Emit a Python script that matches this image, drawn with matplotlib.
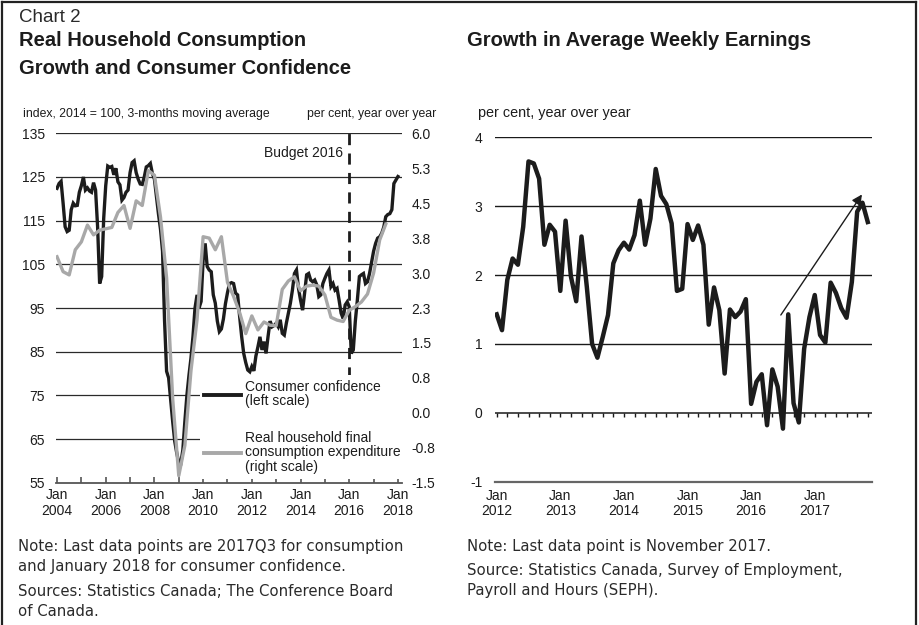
import matplotlib
matplotlib.use("Agg")
import matplotlib.pyplot as plt
import numpy as np
from matplotlib.lines import Line2D

# ---------------- data ----------------
# Consumer confidence index (2014=100, 3-month m.a.), monthly Jan 2004 .. Jan 2018
cc_2004 = [122.4, 123.5, 124.0, 119.0, 113.6, 112.5, 112.8, 117.5, 119.0, 118.4, 118.5, 121.5]
cc_2005 = [123.0, 125.0, 122.0, 122.5, 121.8, 121.5, 123.7, 122.0, 113.6, 100.6, 102.2, 115.5]
cc_2006 = [123.0, 127.5, 127.2, 127.4, 125.5, 127.0, 123.9, 123.2, 119.7, 120.3, 121.5, 122.0]
cc_2007 = [126.0, 128.3, 128.7, 126.0, 124.5, 123.4, 123.3, 125.0, 127.3, 127.6, 128.1, 125.8]
cc_2008 = [124.5, 120.5, 116.5, 113.0, 108.0, 92.0, 80.5, 79.0, 74.0, 69.0, 64.5, 61.8]
cc_2009 = [59.6, 59.4, 62.5, 69.0, 75.0, 79.5, 83.5, 88.5, 95.0, 98.0, 95.0, 96.5]
cc_2010 = [106.0, 109.8, 104.5, 103.7, 103.3, 98.0, 96.1, 92.0, 89.6, 90.2, 92.5, 96.0]
cc_2011 = [98.5, 100.6, 100.8, 100.6, 98.4, 98.0, 93.0, 88.4, 84.6, 82.5, 80.8, 80.4]
cc_2012 = [81.6, 80.6, 84.0, 86.1, 88.4, 85.4, 87.3, 84.6, 88.5, 92.0, 90.7, 91.0]
cc_2013 = [91.5, 90.7, 92.3, 89.2, 88.8, 91.5, 93.8, 96.1, 99.1, 102.9, 103.7, 99.5]
cc_2014 = [96.8, 94.5, 98.4, 102.6, 102.9, 101.4, 101.0, 101.4, 100.3, 97.6, 98.0, 100.6]
cc_2015 = [101.8, 102.9, 103.7, 99.9, 100.6, 99.1, 99.5, 96.8, 93.8, 92.6, 95.7, 96.4]
cc_2016 = [95.3, 84.6, 85.4, 92.0, 96.8, 102.2, 102.6, 102.9, 100.6, 101.0, 102.9, 105.5]
cc_2017 = [108.0, 109.8, 111.0, 111.3, 112.1, 113.5, 115.9, 116.4, 116.6, 117.5, 123.5, 124.3]
cc_2018 = [125.1]
confidence = (cc_2004 + cc_2005 + cc_2006 + cc_2007 + cc_2008 + cc_2009 + cc_2010 +
              cc_2011 + cc_2012 + cc_2013 + cc_2014 + cc_2015 + cc_2016 + cc_2017 + cc_2018)

# Real household final consumption expenditure, % y/y, quarterly 2004Q1 .. 2017Q3
consumption = [3.35, 3.03, 2.96, 3.50, 3.67, 4.03, 3.82, 3.92, 3.95, 3.98, 4.30, 4.45,
               3.96, 4.55, 4.45, 5.20, 5.10, 4.20, 2.90, 0.30, -1.35, -0.70, 0.90, 2.00,
               3.78, 3.75, 3.50, 3.78, 2.80, 2.50, 2.15, 1.70, 2.08, 1.78, 1.95, 1.88,
               1.87, 2.65, 2.83, 2.92, 2.62, 2.72, 2.74, 2.72, 2.53, 2.05, 1.99, 1.96,
               2.20, 2.28, 2.38, 2.55, 3.00, 3.71, 4.05]

# Average weekly earnings growth, % y/y, monthly Jan 2012 .. Nov 2017
earnings = [1.43, 1.20, 1.93, 2.24, 2.15, 2.70, 3.65, 3.62, 3.40, 2.44, 2.73, 2.63,
            1.77, 2.79, 1.98, 1.62, 2.56, 1.83, 1.00, 0.80, 1.10, 1.42, 2.17, 2.36,
            2.47, 2.37, 2.58, 3.08, 2.44, 2.82, 3.54, 3.15, 3.03, 2.75, 1.77, 1.80,
            2.74, 2.51, 2.72, 2.44, 1.28, 1.82, 1.49, 0.57, 1.50, 1.39, 1.47, 1.65,
            0.13, 0.45, 0.56, -0.18, 0.63, 0.38, -0.23, 1.43, 0.14, -0.14, 0.93, 1.39,
            1.71, 1.13, 1.02, 1.89, 1.74, 1.52, 1.38, 1.90, 2.92, 3.05, 2.77]

left_ticks = [55, 65, 75, 85, 95, 105, 115, 125, 135]
right_ticks = [-1.5, -0.75, 0.0, 0.75, 1.5, 2.25, 3.0, 3.75, 4.5, 5.25, 6.0]
right_labels = ["-1.5", "-0.8", "0.0", "0.8", "1.5", "2.3", "3.0", "3.8", "4.5", "5.3", "6.0"]
left_years = list(range(2004, 2019, 2))
earn_ticks = [-1, 0, 1, 2, 3, 4]
earn_years = list(range(2012, 2018))
budget_month = 144          # Jan 2016, months since Jan 2004
arrow_start = (53.6, 1.42)  # months since Jan 2012, per cent
arrow_end = (68.9, 3.17)

# ---------------- figure ----------------
W, H = 920, 625
fig = plt.figure(figsize=(W / 100, H / 100), dpi=100)
fig.patch.set_facecolor("white")

def fx(px):
    return px / W

def fy(py):
    return 1 - py / H

TICKFONT = "Liberation Sans"
NOTEFONT = "DejaVu Sans"
DARK = "#1c1c1c"
GRAY = "#a8a8a8"
TXT = "#2a2a2a"

# border
fig.add_artist(Line2D([fx(2), fx(2)], [0, fy(1.5)], transform=fig.transFigure, color="#222", lw=1.6))
fig.add_artist(Line2D([fx(2), fx(916)], [fy(1.5), fy(1.5)], transform=fig.transFigure, color="#222", lw=1.6))
fig.add_artist(Line2D([fx(916), fx(916)], [0, fy(1.5)], transform=fig.transFigure, color="#222", lw=1.6))

# titles
fig.text(fx(19), fy(17), "Chart 2", fontsize=13.5, family=TICKFONT, color=TXT, va="center")
fig.text(fx(19), fy(41), "Real Household Consumption", fontsize=14.5, family=TICKFONT,
         fontweight="bold", color=DARK, va="center")
fig.text(fx(19), fy(68), "Growth and Consumer Confidence", fontsize=14.5, family=TICKFONT,
         fontweight="bold", color=DARK, va="center")
fig.text(fx(467), fy(41), "Growth in Average Weekly Earnings", fontsize=14.5, family=TICKFONT,
         fontweight="bold", color=DARK, va="center")

# ---------------- left chart ----------------
ax1 = fig.add_axes([fx(56), fy(482.7), fx(402) - fx(56), fy(133.3) - fy(482.7)])
m_cc = np.arange(len(confidence))
m_cons = np.arange(len(consumption)) * 3
ax1.set_xlim(-0.5, 170)
ax1.set_ylim(left_ticks[0], left_ticks[-1])
for v in left_ticks[1:]:
    ax1.axhline(v, color="#2a2a2a", lw=0.9, zorder=1)
ax1.plot(m_cc, confidence, color=DARK, lw=2.4, zorder=3, solid_joinstyle="miter")
ax1.vlines(budget_month, 79, 135, colors=DARK, linestyles=(0, (4, 3)), lw=2.0, zorder=4)
ax1.text(141, 130.6, "Budget 2016", ha="right", va="center", fontsize=10, family=TICKFONT, color=DARK)
for s in ["top", "left", "right"]:
    ax1.spines[s].set_visible(False)
ax1.spines["bottom"].set_color("#555")
ax1.spines["bottom"].set_linewidth(1.3)
ax1.set_yticks(left_ticks)
ax1.set_yticklabels([str(v) for v in left_ticks], family=TICKFONT, fontsize=10, color=DARK)
ax1.tick_params(axis="y", length=0, pad=8)
ax1.set_xticks(np.arange(0, 169, 12), minor=True)
ax1.set_xticks([(y - 2004) * 12 for y in left_years])
ax1.set_xticklabels([f"Jan\n{y}" for y in left_years], family=TICKFONT, fontsize=10, color=DARK,
                    linespacing=1.15)
ax1.tick_params(axis="x", which="both", direction="in", length=4, width=1.2, color="#555", pad=4)

ax1r = ax1.twinx()
ax1r.set_ylim(right_ticks[0], right_ticks[-1])
ax1r.plot(m_cons, consumption, color=GRAY, lw=2.4, zorder=3)
for s in ["top", "left", "right", "bottom"]:
    ax1r.spines[s].set_visible(False)
ax1r.set_yticks(right_ticks)
ax1r.set_yticklabels(right_labels, family=TICKFONT, fontsize=10, color=DARK)
ax1r.tick_params(axis="y", length=0, pad=7)

handles = [Line2D([], [], color=DARK, lw=2.8), Line2D([], [], color=GRAY, lw=2.8)]
labels = ["Consumer confidence\n(left scale)",
          "Real household final\nconsumption expenditure\n(right scale)"]
leg = ax1r.legend(handles, labels, loc="lower left", bbox_to_anchor=(0.415, 0.012),
                  frameon=True, fancybox=False, framealpha=1, facecolor="white",
                  edgecolor="none", prop={"family": TICKFONT, "size": 10},
                  handlelength=2.6, handletextpad=0.3, labelspacing=1.6,
                  borderpad=0.35, borderaxespad=0)
for t in leg.get_texts():
    t.set_color(DARK)
    t.set_linespacing(1.05)

fig.text(fx(23), fy(114), "index, 2014 = 100, 3-months moving average", fontsize=8.8,
         family=TICKFONT, color=DARK, va="center")
fig.text(fx(436), fy(114), "per cent, year over year", fontsize=8.8, family=TICKFONT,
         color=DARK, va="center", ha="right")

# ---------------- right chart ----------------
ax2 = fig.add_axes([fx(495), fy(481.7), fx(872) - fx(495), fy(137.3) - fy(481.7)])
m_e = np.arange(len(earnings))
ax2.set_xlim(-0.32, 70.8)
ax2.set_ylim(earn_ticks[0], earn_ticks[-1])
for v in earn_ticks[1:]:
    ax2.axhline(v, color="#1a1a1a", lw=1.0 if v else 1.1, zorder=1)
ax2.vlines(np.arange(0, 71, 2), -0.06, 0, colors="#1a1a1a", lw=1.0, zorder=1)
ax2.plot(m_e, earnings, color=DARK, lw=3.2, zorder=3)
ax2.annotate("", xy=arrow_end, xytext=arrow_start,
             arrowprops=dict(arrowstyle="-|>", color=DARK, lw=1.0, mutation_scale=15,
                             shrinkA=0, shrinkB=0))
for s in ["top", "left", "right"]:
    ax2.spines[s].set_visible(False)
ax2.spines["bottom"].set_color("#666")
ax2.spines["bottom"].set_linewidth(1.6)
ax2.set_yticks(earn_ticks)
ax2.set_yticklabels([str(v) for v in earn_ticks], family=TICKFONT, fontsize=10, color=DARK)
ax2.tick_params(axis="y", length=0, pad=9)
ax2.set_xticks([(y - 2012) * 12 for y in earn_years])
ax2.set_xticklabels([f"Jan\n{y}" for y in earn_years], family=TICKFONT, fontsize=10, color=DARK,
                    linespacing=1.15)
ax2.tick_params(axis="x", length=0, pad=5)

fig.text(fx(478), fy(113), "per cent, year over year", fontsize=10.4, family=TICKFONT,
         color=DARK, va="center")

# ---------------- notes ----------------
nkw = dict(fontsize=10.7, family=NOTEFONT, color=TXT, va="center")
fig.text(fx(18), fy(546), "Note: Last data points are 2017Q3 for consumption", **nkw)
fig.text(fx(18), fy(566), "and January 2018 for consumer confidence.", **nkw)
fig.text(fx(18), fy(592), "Sources: Statistics Canada; The Conference Board", **nkw)
fig.text(fx(18), fy(612), "of Canada.", **nkw)
fig.text(fx(467), fy(546), "Note: Last data point is November 2017.", **nkw)
fig.text(fx(467), fy(571), "Source: Statistics Canada, Survey of Employment,", **nkw)
fig.text(fx(467), fy(591), "Payroll and Hours (SEPH).", **nkw)

fig.savefig("out.png", dpi=100, facecolor="white")
